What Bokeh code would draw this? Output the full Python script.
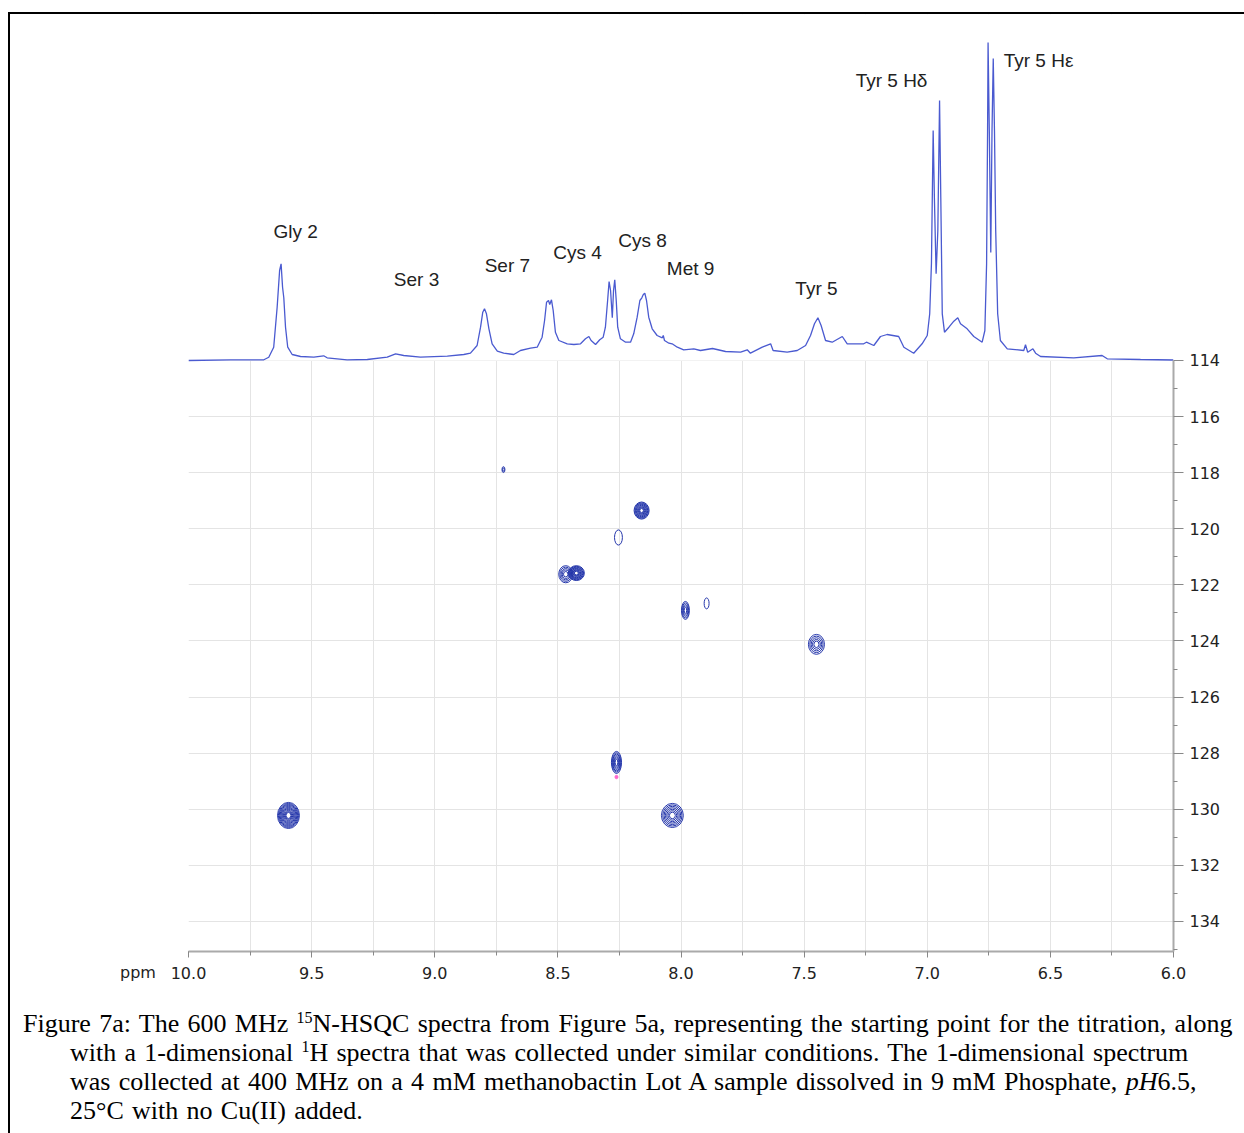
from bokeh.plotting import figure
from bokeh.layouts import column
from bokeh.models import (Range1d, SingleIntervalTicker, FixedTicker, Div,
                          PrintfTickFormatter, BoxAnnotation)
from bokeh.embed import file_html
from bokeh.resources import INLINE
from bokeh.core.properties import value

# ---------------- 1D 1H spectrum (ppm, intensity in arbitrary units) ----------------
spec_ppm = [10.000, 9.829, 9.694, 9.674, 9.654, 9.640, 9.630, 9.624, 9.618, 9.613,
            9.606, 9.597, 9.579, 9.545, 9.491, 9.451, 9.437, 9.356, 9.274, 9.193,
            9.159, 9.126, 9.058, 8.949, 8.882, 8.855, 8.828, 8.814, 8.805, 8.798,
            8.790, 8.780, 8.767, 8.746, 8.720, 8.679, 8.652, 8.611, 8.584, 8.564,
            8.554, 8.546, 8.538, 8.533, 8.526, 8.519, 8.510, 8.496, 8.462, 8.435,
            8.408, 8.388, 8.374, 8.365, 8.347, 8.330, 8.316, 8.307, 8.298, 8.292,
            8.286, 8.279, 8.274, 8.269, 8.263, 8.257, 8.246, 8.225, 8.205, 8.192,
            8.178, 8.167, 8.159, 8.153, 8.147, 8.140, 8.131, 8.117, 8.097, 8.076,
            8.072, 8.067, 8.049, 8.036, 8.015, 7.989, 7.948, 7.921, 7.872, 7.819,
            7.758, 7.731, 7.718, 7.670, 7.636, 7.626, 7.569, 7.528, 7.494, 7.474,
            7.458, 7.444, 7.431, 7.413, 7.386, 7.345, 7.325, 7.258, 7.247, 7.217,
            7.190, 7.163, 7.116, 7.095, 7.055, 7.021, 7.000, 6.990, 6.983, 6.976,
            6.971, 6.964, 6.957, 6.950, 6.945, 6.939, 6.930, 6.912, 6.892, 6.876,
            6.865, 6.838, 6.811, 6.777, 6.766, 6.759, 6.755, 6.753, 6.748, 6.742,
            6.737, 6.732, 6.727, 6.722, 6.714, 6.703, 6.675, 6.608, 6.601, 6.592,
            6.571, 6.560, 6.540, 6.405, 6.290, 6.269, 6.134, 6.000]
spec_int = [0, 0.7, 0.7, 3.3, 13.3, 53.3, 90, 96.7, 73.3, 62.7,
            33.3, 13.3, 6, 4, 3.3, 4.7, 2.7, 0.7, 1, 3.3,
            6.7, 5, 3.3, 4.3, 6, 7.3, 15, 33.3, 48.3, 51.7,
            46.7, 31.7, 16.7, 9.3, 7.3, 6, 10, 12.3, 13.3, 23.3,
            40, 58.3, 60, 56, 60.7, 50, 28.3, 20, 16.7, 16,
            16.7, 21.7, 24, 20, 16, 20.7, 23.3, 33.3, 60, 79,
            70, 42.7, 70, 80.7, 60, 33.3, 21.7, 18.3, 18.3, 26.7,
            43.3, 60, 62.7, 66, 67.3, 60, 43.3, 31.7, 25, 22.7,
            25, 20, 17.3, 16.7, 13.3, 10.7, 11.7, 10, 12, 9,
            8.3, 10.7, 7.3, 13.3, 16.7, 10, 8.3, 10, 15, 25,
            36.7, 42.7, 35, 20, 18.3, 24, 16.7, 16.7, 18.3, 15,
            24, 26, 24, 13.3, 7.3, 16.7, 25, 46.7, 96.7, 230,
            163, 86.7, 130, 260, 163, 46.7, 28.3, 33.3, 39.3, 42.7,
            36.7, 31.7, 24, 18.3, 30, 96.7, 230, 318, 230, 108,
            230, 302, 230, 130, 46.7, 20, 11.7, 10, 15.7, 8.3,
            11.7, 7.3, 4, 2.7, 5, 1.7, 1, 0.5]

# peak assignments on the 1D trace
label_text = ["Gly 2", "Ser 3", "Ser 7", "Cys 4", "Cys 8", "Met 9", "Tyr 5",
              "Tyr 5 H\u03b4", "Tyr 5 H\u03b5"]
label_ppm = [9.565, 9.074, 8.705, 8.420, 8.156, 7.961, 7.450, 7.145, 6.548]
label_int = [129, 81, 95, 108, 120, 92, 72, 280, 300]

# ---------------- 15N-HSQC cross peaks ----------------
peak_h = [9.594, 8.721, 8.160, 8.254, 8.468, 8.425, 7.982, 7.896, 7.450, 8.262, 8.035]
peak_n = [130.22, 117.89, 119.35, 120.31, 121.62, 121.58, 122.91, 122.66, 124.12, 128.33, 130.22]
peak_wh = [0.089, 0.012, 0.061, 0.032, 0.057, 0.065, 0.032, 0.020, 0.065, 0.041, 0.089]
peak_wn = [0.93, 0.21, 0.61, 0.54, 0.61, 0.53, 0.64, 0.39, 0.71, 0.79, 0.86]
peak_levels = [11, 2, 9, 1, 5, 9, 5, 1, 5, 7, 7]

neg_h = [8.262]
neg_n = [128.85]

# axis ticks
n_ticks = [114, 116, 118, 120, 122, 124, 126, 128, 130, 132, 134]
n_minor = [115, 117, 119, 121, 123, 125, 127, 129, 131, 133, 135]
h_major = 0.5

W = 1232
BL, BR = 178, 69
SPEC_COLOR = "#4a5ad0"
CONT_COLOR = "#2436ab"
N_TOP_SPEC = 101.665   # top edge of the frame in 15N ppm (space above 114 holds 1D trace)
N_BOTTOM = 135.07

p = figure(width=W, height=977, x_range=Range1d(10.0, 6.0),
           y_range=Range1d(N_BOTTOM, N_TOP_SPEC),
           output_backend="svg", toolbar_location=None,
           y_axis_location="right",
           min_border_left=BL, min_border_right=BR,
           min_border_top=0, min_border_bottom=40,
           outline_line_color=None, background_fill_color="white",
           border_fill_color="white")
p.extra_y_ranges = {"int": Range1d(-591, 346)}

xax = p.xaxis[0]
xax.ticker = SingleIntervalTicker(interval=h_major, num_minor_ticks=2)
xax.formatter = PrintfTickFormatter(format="%.1f")
yax = p.yaxis[0]
yax.ticker = FixedTicker(ticks=n_ticks, minor_ticks=n_minor)
yax.bounds = (n_ticks[0], N_BOTTOM)

for ax in (xax, yax):
    ax.axis_line_color = "#aaaaaa"
    ax.axis_line_width = 2
    ax.major_tick_line_color = "#888888"
    ax.minor_tick_line_color = "#888888"
    ax.major_tick_in = 0
    ax.minor_tick_in = 0
    ax.major_label_text_font = "DejaVu Sans"
    ax.major_label_text_font_size = "16px"
    ax.major_label_text_color = "#222222"
xax.major_tick_out = 6
xax.minor_tick_out = 4
xax.major_label_standoff = 9
yax.major_tick_out = 10
yax.minor_tick_out = 4
yax.major_label_standoff = 6

p.xgrid.ticker = SingleIntervalTicker(interval=h_major / 2)
p.ygrid.ticker = FixedTicker(ticks=n_ticks)
p.grid.grid_line_color = "#e4e4e4"
p.grid.grid_line_width = 1

# keep the grid out of the 1D-spectrum strip
p.add_layout(BoxAnnotation(left=10.0, right=6.0, bottom=n_ticks[0], top=N_TOP_SPEC,
                           fill_color="white", fill_alpha=1.0, line_alpha=0,
                           level="underlay"))

# 1D trace and assignments
p.line(spec_ppm, spec_int, y_range_name="int", line_color=SPEC_COLOR, line_width=1.3)
p.text(x=label_ppm, y=label_int, text=label_text, y_range_name="int",
       text_font=value("Liberation Sans"), text_font_size="19px",
       text_color="#222222", text_align="center", text_baseline="middle")

# contour rings for each cross peak
cx, cy, cw, chh = [], [], [], []
for h, n, wh, wn, lv in zip(peak_h, peak_n, peak_wh, peak_wn, peak_levels):
    for i in range(lv):
        s = 1.0 - 0.85 * i / max(lv, 1)
        cx.append(h)
        cy.append(n)
        cw.append(wh * s)
        chh.append(wn * s)
p.ellipse(x=cx, y=cy, width=cw, height=chh, fill_alpha=0,
          line_color=CONT_COLOR, line_width=1.0)
p.ellipse(x=neg_h, y=neg_n, width=0.012, height=0.12,
          fill_color="#ff66cc", line_color="#ff66cc")

sup = '<sup style="font-size:16px; line-height:0; vertical-align:9px;">'
caption_html = (
    '<div style="font-family:\'Liberation Serif\',serif; font-size:26px; line-height:29px; '
    'word-spacing:1.8px; color:#000; padding:13px 0 0 8px; white-space:nowrap;">'
    '<div style="position:relative; height:0; top:-46px; left:97px; '
    'font-family:\'DejaVu Sans\',sans-serif; font-size:16px; line-height:19px; '
    'word-spacing:0; color:#222;">ppm</div>'
    'Figure 7a: The 600 MHz ' + sup + '15</sup>'
    'N-HSQC spectra from Figure 5a, representing the starting point for the titration, along<br>'
    '<span style="padding-left:47px"></span>with a 1-dimensional ' + sup + '1</sup>'
    'H spectra that was collected under similar conditions. The 1-dimensional spectrum<br>'
    '<span style="padding-left:47px"></span>was collected at 400 MHz on a 4 mM methanobactin Lot A '
    'sample dissolved in 9 mM Phosphate, <i>pH</i>6.5,<br>'
    '<span style="padding-left:47px"></span>25\u00b0C with no Cu(II) added.'
    '</div>'
)
cap = Div(text=caption_html, width=W, height=136)

layout = column(p, cap, margin=(12, 0, 0, 8),
                styles={"border-top": "2px solid #000", "border-left": "2px solid #000"})

open("out.html", "w").write(file_html(layout, INLINE))
